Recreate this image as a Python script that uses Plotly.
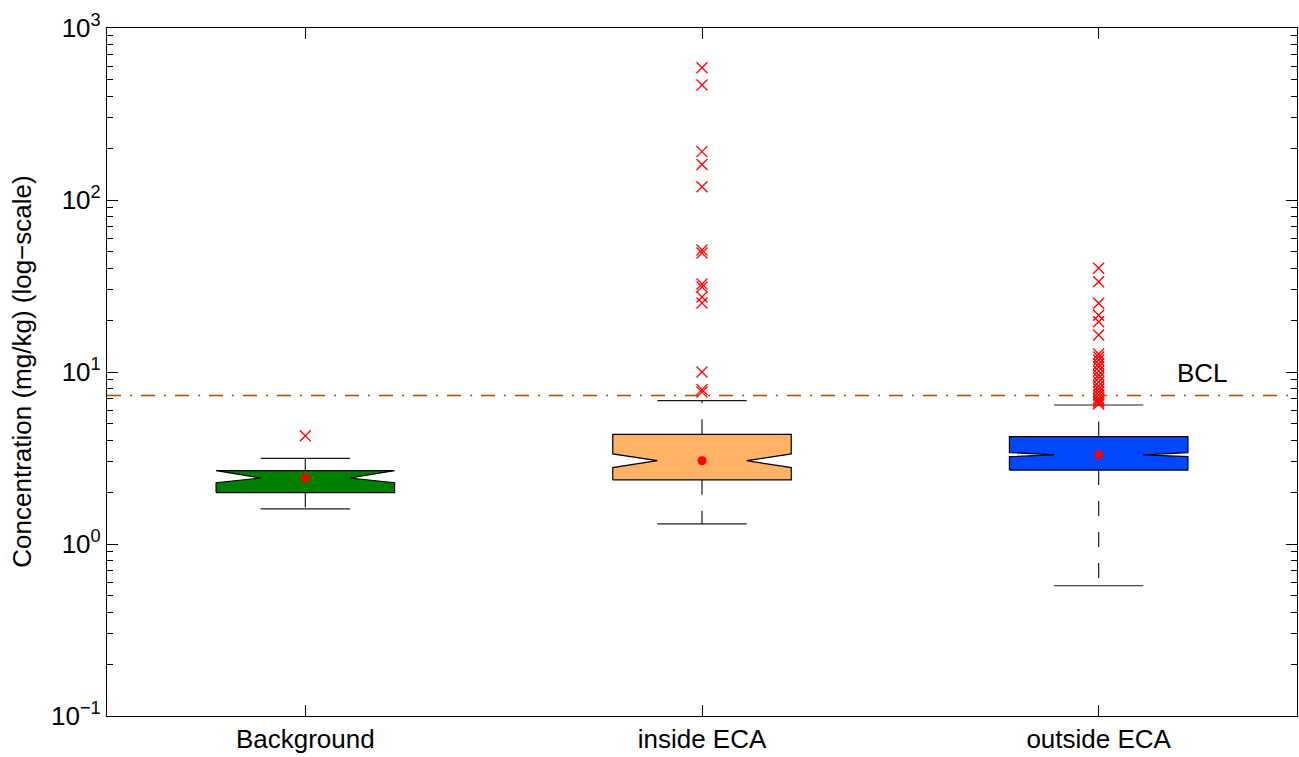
import numpy as np
import plotly.graph_objects as go

# ---------------- data ----------------
categories = ["Background", "inside ECA", "outside ECA"]
q1 = [1.99, 2.36, 2.69]
medians = [2.42, 3.05, 3.30]
q3 = [2.67, 4.34, 4.21]
notch_low = [2.27, 2.78, 3.22]
notch_high = [2.67, 3.34, 3.40]
lower_whisker = [1.60, 1.31, 0.572]
upper_whisker = [3.15, 6.81, 6.43]
means = [2.42, 3.05, 3.30]

outliers_background = [4.26]
outliers_inside = [588, 466, 191, 161, 119.5, 51.2, 49.2, 32.5, 31.2, 27.3, 25.2,
                   10.0, 7.9, 7.65]
outliers_outside = [40.1, 33.5, 25.1, 21.4, 19.6, 16.4, 12.73, 12.23, 11.74, 11.13,
                    10.69, 10.13, 9.61, 9.23, 8.75, 8.29, 7.96, 7.65, 7.35, 7.06,
                    6.87, 6.69, 6.52]
bcl_value = 7.3
bcl_label = "BCL"
y_title = "Concentration (mg/kg) (log−scale)"

ytick_values = [0.1, 1, 10, 100, 1000]
ytick_exponents = ["−1", "0", "1", "2", "3"]

# ---------------- style ----------------
box_colors = ["#008000", "#ffb266", "#0047ff"]
FONT = "Liberation Sans, Arial, sans-serif"
FS = 26
BOX_HALF = 0.225
NOTCH_DEPTH = 0.5
CAP_HALF = 0.1125

positions = list(range(len(categories)))
outliers = [outliers_background, outliers_inside, outliers_outside]

fig = go.Figure()

# whiskers (dashed) and caps
for i, p in enumerate(positions):
    fig.add_trace(go.Scatter(
        x=[p, p, None, p, p], y=[q3[i], upper_whisker[i], None, q1[i], lower_whisker[i]],
        mode="lines", line=dict(color="#1a1a1a", width=1.2, dash="15px,16px"),
        connectgaps=False, showlegend=False, hoverinfo="skip"))
    fig.add_trace(go.Scatter(
        x=[p - CAP_HALF, p + CAP_HALF, None, p - CAP_HALF, p + CAP_HALF],
        y=[upper_whisker[i], upper_whisker[i], None, lower_whisker[i], lower_whisker[i]],
        mode="lines", line=dict(color="#1a1a1a", width=1.2),
        connectgaps=False, showlegend=False, hoverinfo="skip"))

# notched boxes (polygons built from the quartile / notch statistics)
for i, p in enumerate(positions):
    xl, xr = p - BOX_HALF, p + BOX_HALF
    xnl, xnr = p - BOX_HALF * NOTCH_DEPTH, p + BOX_HALF * NOTCH_DEPTH
    bx = [xl, xl, xnl, xl, xl, xr, xr, xnr, xr, xr, xl]
    by = [q1[i], notch_low[i], medians[i], notch_high[i], q3[i],
          q3[i], notch_high[i], medians[i], notch_low[i], q1[i], q1[i]]
    fig.add_trace(go.Scatter(
        x=bx, y=by, mode="lines", fill="toself", fillcolor=box_colors[i],
        line=dict(color="black", width=1.2), showlegend=False, hoverinfo="skip"))

# outliers
for i, p in enumerate(positions):
    fig.add_trace(go.Scatter(
        x=[p] * len(outliers[i]), y=outliers[i], mode="markers",
        marker=dict(symbol="x-thin-open", size=11, color="red",
                    line=dict(color="red", width=1.3)),
        showlegend=False, hoverinfo="skip"))

# means
fig.add_trace(go.Scatter(
    x=positions, y=means, mode="markers",
    marker=dict(symbol="circle", size=9, color="red"),
    showlegend=False, hoverinfo="skip"))

# BCL reference line
fig.add_shape(type="line", xref="paper", x0=0, x1=1, yref="y", y0=bcl_value, y1=bcl_value,
              line=dict(color="#b34700", width=1.5, dash="14px,9px,2px,9px"))
fig.add_annotation(x=2.263, y=np.log10(9.9), xref="x", yref="y", text=bcl_label,
                   showarrow=False, font=dict(family=FONT, size=FS, color="black"),
                   xanchor="center", yanchor="middle")

# y title
fig.add_annotation(x=-0.0717, y=0.5, xref="paper", yref="paper",
                   text=y_title, textangle=-90,
                   showarrow=False, font=dict(family=FONT, size=FS, color="black"),
                   xanchor="center", yanchor="middle")

ytick_text = ["10<sup>%s</sup>" % e for e in ytick_exponents]
minor_vals = [m * 10.0 ** e for e in range(-1, 3) for m in range(2, 10)]

fig.update_layout(
    width=1299, height=757, autosize=False,
    margin=dict(l=107, r=2, t=28, b=41, autoexpand=False),
    paper_bgcolor="white", plot_bgcolor="white",
    font=dict(family=FONT, size=FS, color="black"),
    xaxis=dict(range=[-0.5, 2.5], tickmode="array", tickvals=positions, ticktext=categories,
               ticks="inside", ticklen=11, tickwidth=1, tickcolor="black",
               showline=True, linecolor="black", linewidth=1.2, mirror="ticks",
               showgrid=False, zeroline=False, automargin=False,
               tickfont=dict(family=FONT, size=FS, color="black")),
    yaxis=dict(type="log", range=[-1, 3], tickmode="array", tickvals=ytick_values,
               ticktext=ytick_text, ticks="inside", ticklen=11, tickwidth=1, tickcolor="black",
               minor=dict(tickmode="array", tickvals=minor_vals, ticks="inside", ticklen=6,
                          tickwidth=1, tickcolor="black", showgrid=False),
               showline=True, linecolor="black", linewidth=1.2, mirror="ticks",
               showgrid=False, zeroline=False, automargin=False,
               tickfont=dict(family=FONT, size=FS, color="black")),
)

fig.write_html("out.html",
               config={"responsive": False, "displayModeBar": False},
               post_script="document.body.style.margin='0';document.body.style.overflow='hidden';")
